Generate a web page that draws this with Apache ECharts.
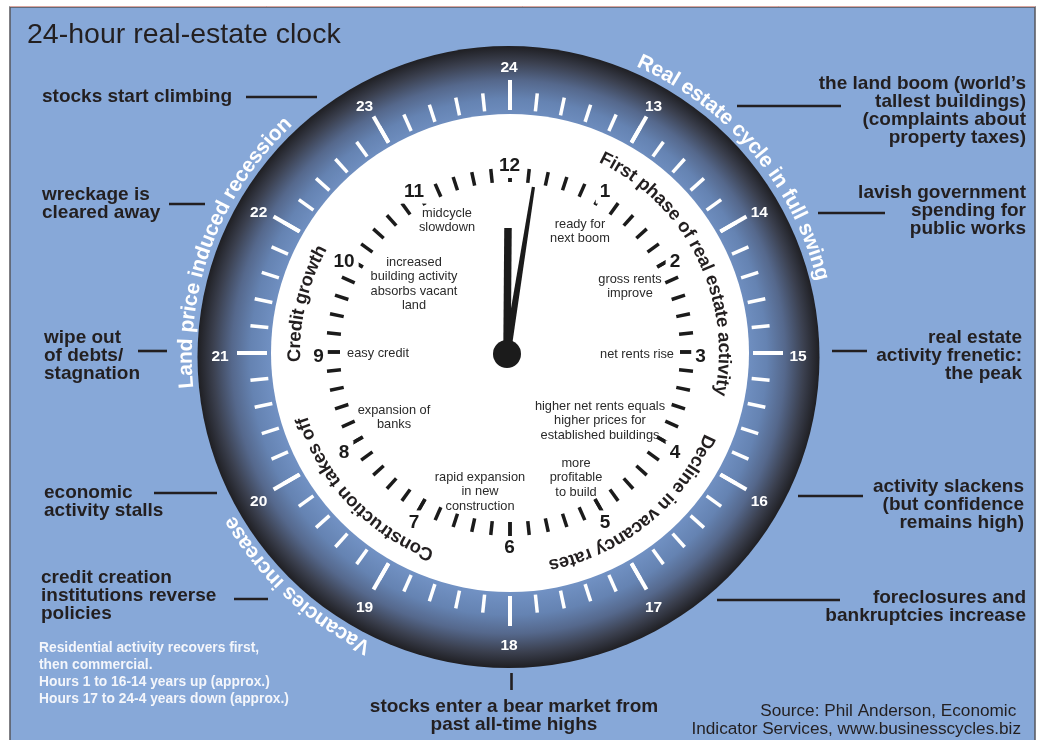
<!DOCTYPE html>
<html><head><meta charset="utf-8">
<script src="https://cdn.jsdelivr.net/npm/echarts@6/dist/echarts.min.js"></script>
<style>html,body{margin:0;padding:0;background:#fff}#c{width:1040px;height:740px}</style>
</head><body><div id="c"></div>
<script>
// ---------------- data ----------------
const title = '24-hour real-estate clock';
const innerHours = [1,2,3,4,5,6,7,8,9,10,11,12];
const innerLabels = ['1','2','3','4','5','6','7','8','9','10','11','12'];
const outerHours = [13,14,15,16,17,18,19,20,21,22,23,24];
const outerLabels = ['13','14','15','16','17','18','19','20','21','22','23','24'];
const ticksPerHour = [5];
const hourHand = [0.015];   // position on the 12-hour dial
const minuteHand = [1.5];   // minutes past the hour
const outerArcTexts = ['Real estate cycle in full swing','Land price induced recession','Vacancies increase'];
const innerArcTexts = ['First phase of real estate activity','Decline in vacancy rates','Construction takes off','Credit growth'];
const leftNotes = ['stocks start climbing','wreckage is\ncleared away','wipe out\nof debts/\nstagnation','economic\nactivity stalls','credit creation\ninstitutions reverse\npolicies'];
const rightNotes = ['the land boom (world\u2019s\ntallest buildings)\n(complaints about\nproperty taxes)','lavish government\nspending for\npublic works','real estate\nactivity frenetic:\nthe peak','activity slackens\n(but confidence\nremains high)','foreclosures and\nbankruptcies increase'];
const bottomNote = ['stocks enter a bear market from\npast all-time highs'];
const phaseNotes = ['midcycle\nslowdown','ready for\nnext boom','increased\nbuilding activity\nabsorbs vacant\nland','gross rents\nimprove','easy credit','net rents rise','expansion of\nbanks','higher net rents equals\nhigher prices for\nestablished buildings','more\nprofitable\nto build','rapid expansion\nin new\nconstruction'];
const footNote = ['Residential activity recovers first,\nthen commercial.\nHours 1 to 16-14 years up (approx.)\nHours 17 to 24-4 years down (approx.)'];
const sourceNote = ['Source: Phil Anderson, Economic \nIndicator Services, www.businesscycles.biz'];

// ---------------- layout ----------------
const FONT = '"Liberation Sans", Arial, Helvetica, sans-serif';
const INK = '#231f20';
const leftPos = [[42,97],[42,195],[44,338],[44,493],[41,578]];
const leftLines = [[246,317,97],[169,205,204],[138,167,351],[154,217,493],[234,268,599]];
const rightPos = [[1026,84],[1026,193],[1022,338],[1024,487],[1026,598]];
const rightLines = [[737,841,106],[818,885,213],[832,867,351],[798,863,496],[717,840,600]];
const phasePos = [[447,213],[580,224],[414,262],[630,279],[378,353],[637,354],[394,410],[600,406],[576,463],[480,477]];
const outerArcPos = [[49.9,323],[290.7,323],[222.9,323]];
const innerArcPos = [[63.5,215],[141,217],[226.5,217],[283.4,214]];

const mctx = document.createElement('canvas').getContext('2d');
function arcText(text, cx, cy, r, midDeg, size, color, spacing) {
  mctx.font = 'bold ' + size + 'px ' + FONT;
  const chars = Array.from(text);
  const ws = chars.map(c => mctx.measureText(c).width + spacing);
  const total = ws.reduce((a, b) => a + b, 0) - spacing;
  let a = midDeg * Math.PI / 180 - total / 2 / r;
  return chars.map((c, i) => {
    const ac = a + (ws[i] - spacing) / 2 / r;
    a += ws[i] / r;
    return {type: 'text', x: cx + r * Math.sin(ac), y: cy - r * Math.cos(ac), rotation: -ac, silent: true, z: 5,
      style: {text: c, fontSize: size, fontWeight: 'bold', fontFamily: FONT, fill: color, align: 'center', verticalAlign: 'middle'}};
  });
}
function txt(t, x, y, align, size, weight, color, lh) {
  return {type: 'text', x: x, y: y - lh / 2, silent: true, z: 5,
    style: {text: t, fontSize: size, fontWeight: weight, fontFamily: FONT, fill: color, align: align, verticalAlign: 'top', lineHeight: lh}};
}
function seg(x1, y1, x2, y2) {
  return {type: 'line', silent: true, z: 5, shape: {x1: x1, y1: y1, x2: x2, y2: y2}, style: {stroke: INK, lineWidth: 2.6}};
}

const graphics = [];
graphics.push({type: 'rect', silent: true, z: 0, shape: {x: 10, y: 7, width: 1025, height: 740}, style: {fill: '#87a8d8', stroke: '#55565c', lineWidth: 1.5}});
graphics.push({type: 'line', silent: true, z: 0, shape: {x1: 10, y1: 6.5, x2: 1035, y2: 6.5}, style: {stroke: '#d9a6a0', lineWidth: 1}});
graphics.push({type: 'circle', silent: true, z: 0, shape: {cx: 508.5, cy: 357, r: 311},
  style: {fill: {type: 'radial', x: 0.5, y: 0.5, r: 0.5, colorStops: [
    {offset: 0, color: '#7191c3'}, {offset: 0.76, color: '#7191c3'}, {offset: 0.83, color: '#6583b2'},
    {offset: 0.89, color: '#55688c'}, {offset: 0.95, color: '#3b404f'}, {offset: 1, color: '#1f1f23'}]}}});
graphics.push({type: 'circle', silent: true, z: 0, shape: {cx: 510, cy: 353, r: 239}, style: {fill: '#ffffff'}});

graphics.push(txt(title, 27, 35, 'left', 28.5, 'normal', INK, 30));
leftNotes.forEach((t, i) => graphics.push(txt(t, leftPos[i][0], leftPos[i][1], 'left', 19, 'bold', INK, 18)));
rightNotes.forEach((t, i) => graphics.push(txt(t, rightPos[i][0], rightPos[i][1], 'right', 19, 'bold', INK, 18)));
leftLines.concat(rightLines).forEach(l => graphics.push(seg(l[0], l[2], l[1], l[2])));
graphics.push(txt(bottomNote[0], 514, 707, 'center', 19, 'bold', INK, 18));
graphics.push(seg(511.5, 673, 511.5, 690));
phaseNotes.forEach((t, i) => graphics.push(txt(t, phasePos[i][0], phasePos[i][1], 'center', 12.8, 'normal', '#2a2a2a', 14.5)));
graphics.push(txt(footNote[0], 39, 648, 'left', 13.8, 'bold', '#f4f6fb', 17));
graphics.push(txt(sourceNote[0], 1021, 711, 'right', 17.2, 'normal', INK, 18));
outerArcTexts.forEach((t, i) => arcText(t, 509, 357, outerArcPos[i][1], outerArcPos[i][0], 21, '#ffffff', 0).forEach(e => graphics.push(e)));
innerArcTexts.forEach((t, i) => arcText(t, 509, 352, innerArcPos[i][1], innerArcPos[i][0], 18.5, INK, 0).forEach(e => graphics.push(e)));

function tickGauge(center, radius, major, minor) {
  return {type: 'gauge', center: center, radius: radius, startAngle: 90, endAngle: -270, min: 0, max: 12, splitNumber: 12,
    axisLine: {show: false, lineStyle: {width: 0}},
    splitLine: major,
    axisTick: minor,
    axisLabel: {show: false}, pointer: {show: false}, anchor: {show: false}, title: {show: false}, detail: {show: false},
    silent: true, data: [{value: 0}]};
}
function handGauge(radius, max, values, icon, width, withAnchor) {
  return {type: 'gauge', center: [507, 354], radius: radius, startAngle: 90, endAngle: -270, min: 0, max: max, z: 4,
    axisLine: {show: false, lineStyle: {width: 0}}, splitLine: {show: false}, axisTick: {show: false}, axisLabel: {show: false},
    pointer: {show: true, icon: icon, length: '100%', width: width, itemStyle: {color: '#1b1b1b'}},
    anchor: {show: withAnchor, showAbove: true, size: 28, itemStyle: {color: '#1b1b1b'}},
    title: {show: false}, detail: {show: false}, silent: true,
    data: values.map(v => ({value: v}))};
}
function numeralSeries(polarIndex, hours, labels, color, size, bg) {
  const label = {show: true, position: 'inside', formatter: '{b}', color: color, fontSize: size, fontWeight: 'bold', fontFamily: FONT};
  if (bg) { label.backgroundColor = bg; label.padding = [1, 4, 4, 4]; }
  return {type: 'scatter', coordinateSystem: 'polar', polarIndex: polarIndex, symbol: 'circle', symbolSize: 2,
    itemStyle: {color: 'rgba(0,0,0,0)', opacity: 1}, silent: true, z: 6,
    emphasis: {disabled: true},
    label: label,
    data: hours.map((h, i) => ({name: labels[i], value: [1, h % 12]}))};
}

const option = {
  animation: false,
  graphic: {elements: graphics},
  polar: [{center: [509, 357], radius: 289}, {center: [509.5, 357], radius: 191}],
  angleAxis: [
    {polarIndex: 0, type: 'value', min: 0, max: 12, startAngle: 90, clockwise: true, show: false},
    {polarIndex: 1, type: 'value', min: 0, max: 12, startAngle: 90, clockwise: true, show: false}],
  radiusAxis: [
    {polarIndex: 0, type: 'value', min: 0, max: 1, show: false},
    {polarIndex: 1, type: 'value', min: 0, max: 1, show: false}],
  series: [
    tickGauge([510, 353], 273,
      {show: true, length: 30, distance: 0, lineStyle: {color: '#ffffff', width: 4}},
      {show: true, splitNumber: ticksPerHour[0], length: 18, distance: 12, lineStyle: {color: '#ffffff', width: 3.5}}),
    tickGauge([510, 352], 184,
      {show: false, length: 0, distance: 0},
      {show: true, splitNumber: ticksPerHour[0], length: 14, distance: 0, lineStyle: {color: '#1b1b1b', width: 3.5}}),
    numeralSeries(0, outerHours, outerLabels, '#ffffff', 15.5, null),
    numeralSeries(1, innerHours, innerLabels, '#1b1b1b', 19, '#ffffff'),
    handGauge(126, 12, hourHand, 'rect', 7.5, false),
    handGauge(169, 60, minuteHand, 'path://M2,0 L5,0 L7,100 L0,100 Z', 7.5, true)
  ]
};
const chart = echarts.init(document.getElementById('c'), null, {renderer: 'canvas'});
chart.setOption(option);
</script></body></html>
